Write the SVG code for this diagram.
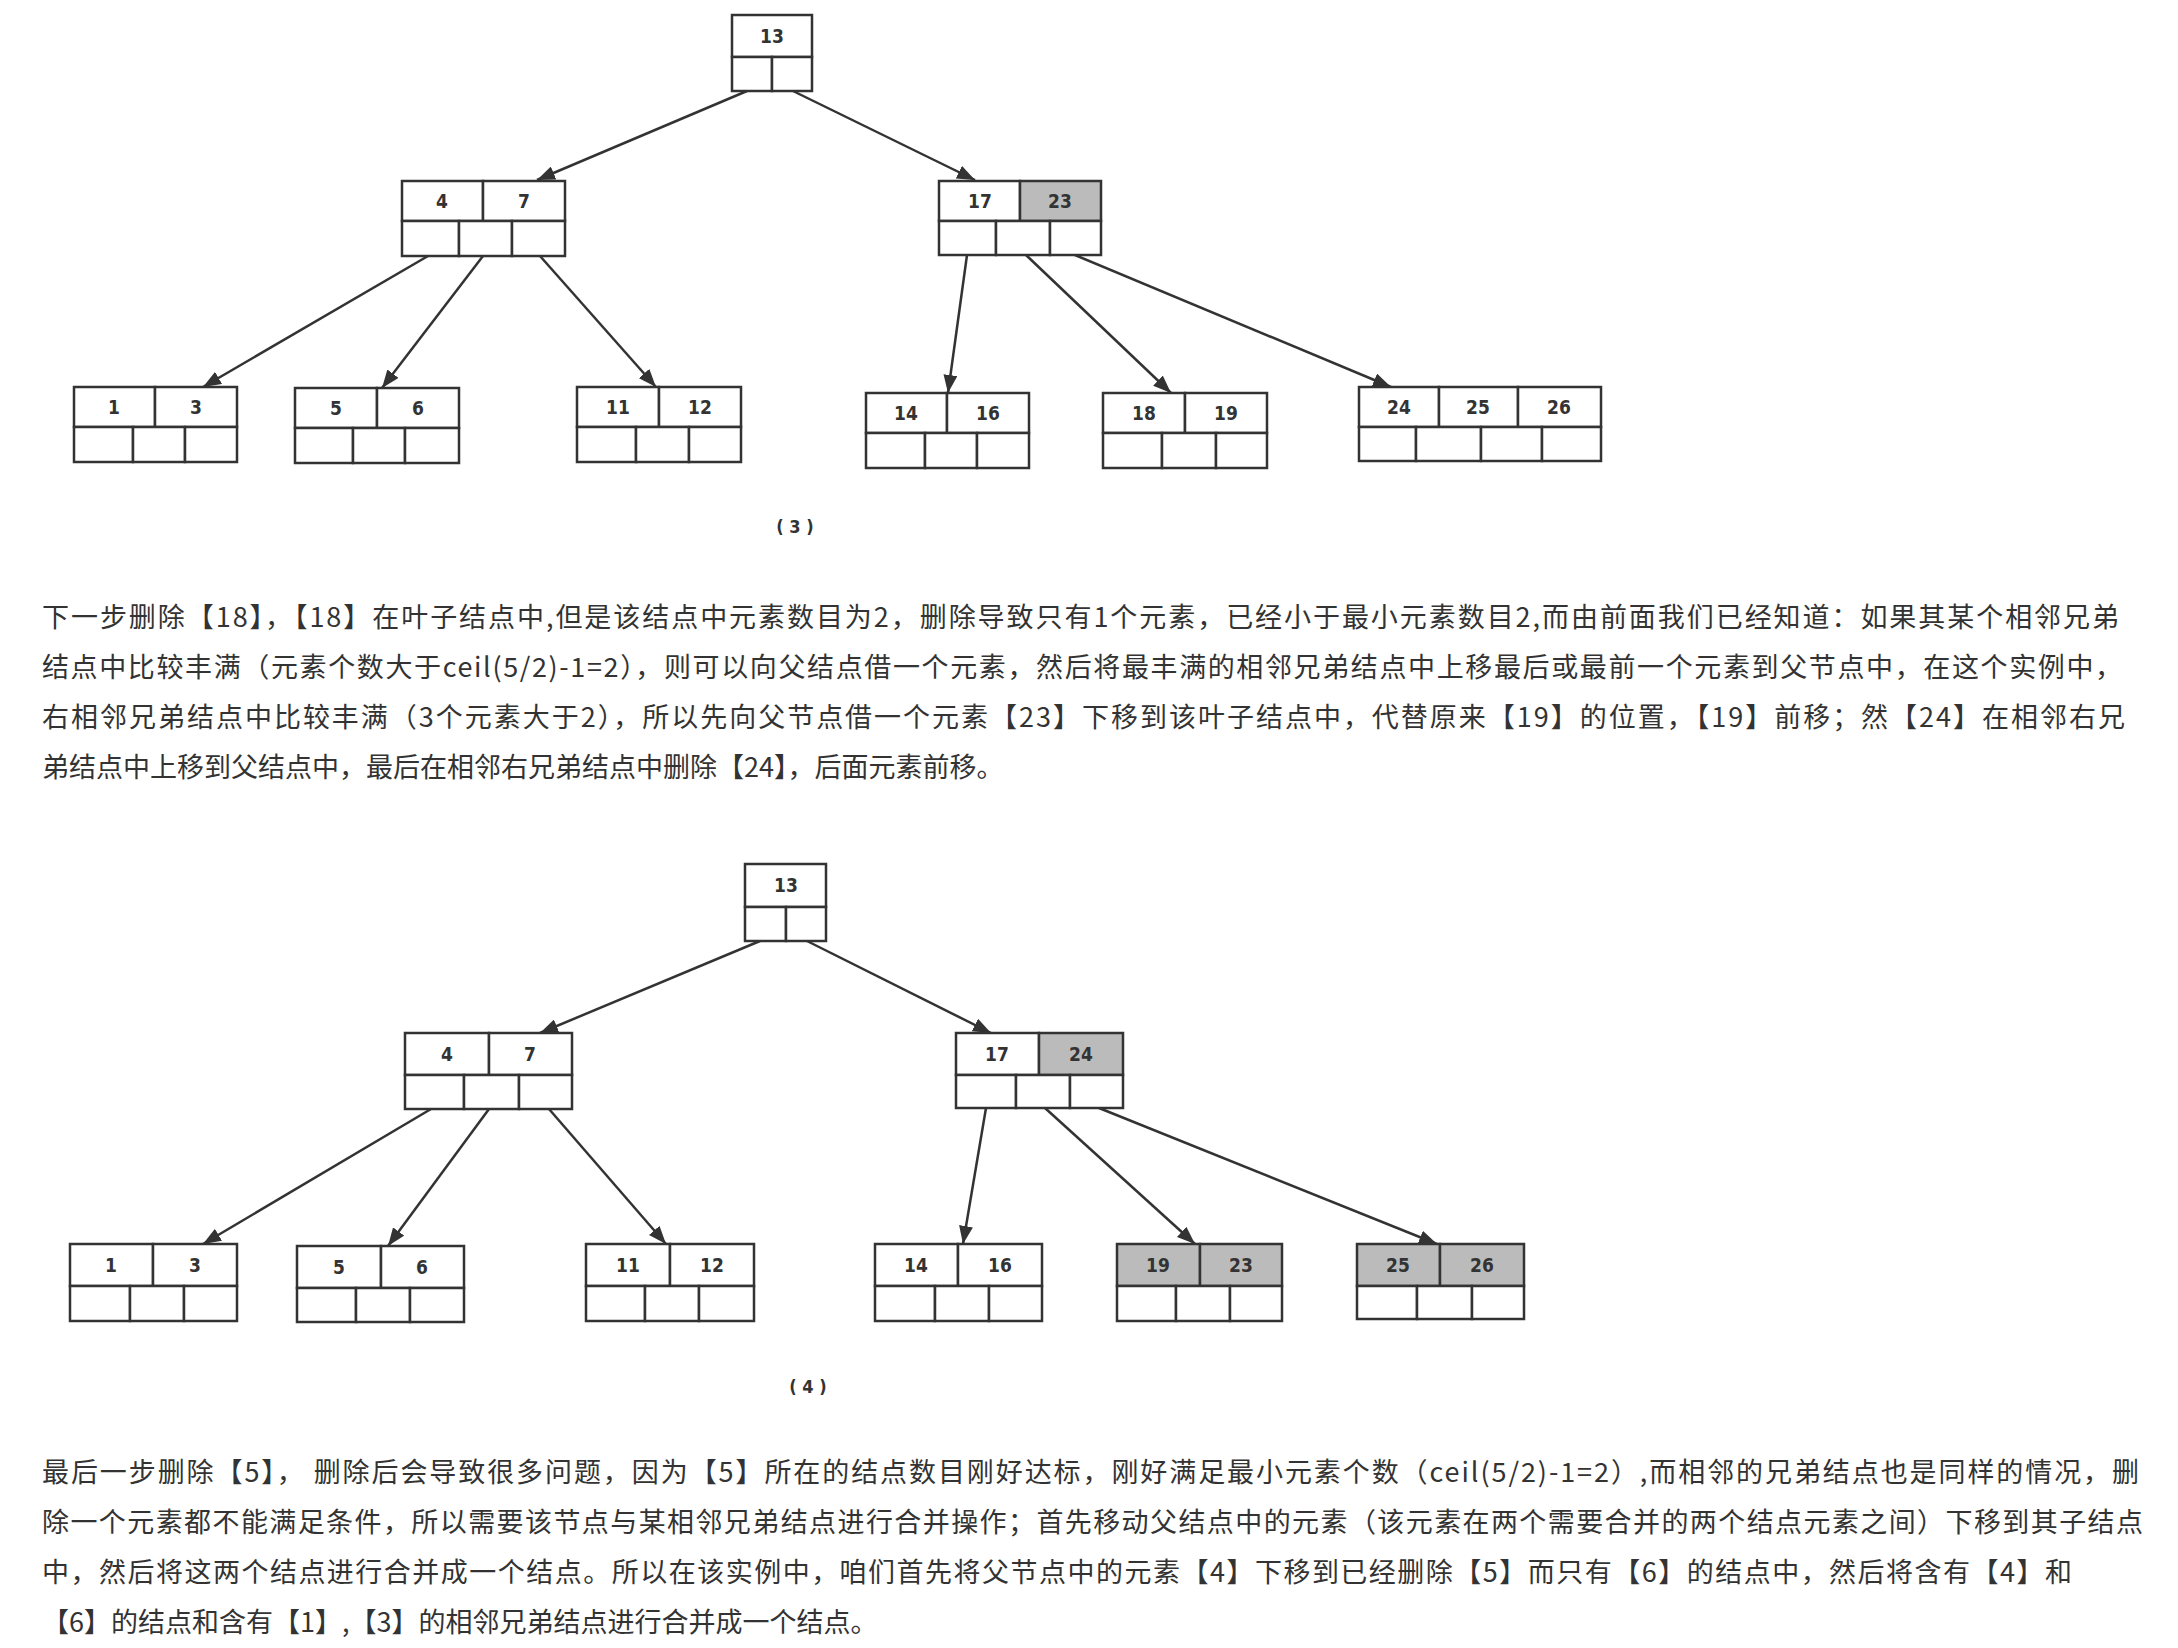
<svg xmlns="http://www.w3.org/2000/svg" width="2178" height="1648" viewBox="0 0 2178 1648">
<style>
.c{fill:#fff;stroke:#333;stroke-width:2.5}
.g{fill:#bbb;stroke:#333;stroke-width:2.5}
.n{font-family:"DejaVu Sans Condensed","DejaVu Sans",sans-serif;font-weight:bold;font-size:19px;fill:#333;text-anchor:middle}
.e{stroke:#333;stroke-width:2.5;fill:none;marker-end:url(#ah)}
.p{font-family:"Noto Sans CJK SC","Noto Sans",sans-serif;font-size:27px;fill:#333}
.cap{font-family:"DejaVu Sans Condensed",sans-serif;font-weight:bold;font-size:18px;fill:#333;text-anchor:middle}
</style>
<defs>
<marker id="ah" markerUnits="userSpaceOnUse" markerWidth="20" markerHeight="14" refX="18" refY="7" orient="auto"><path d="M0,0 L18,7 L0,14 Z" fill="#333"/></marker>
</defs>
<rect width="2178" height="1648" fill="#fff"/>
<g id="connectors">
<line class="e" x1="747" y1="91" x2="537" y2="180"/>
<line class="e" x1="793" y1="91" x2="975" y2="180"/>
<line class="e" x1="428" y1="256" x2="203" y2="387"/>
<line class="e" x1="483" y1="256" x2="382" y2="388"/>
<line class="e" x1="540" y1="256" x2="656" y2="387"/>
<line class="e" x1="967" y1="255" x2="948" y2="393"/>
<line class="e" x1="1026" y1="255" x2="1171" y2="393"/>
<line class="e" x1="1075" y1="255" x2="1391" y2="387"/>
<line class="e" x1="760" y1="941" x2="540" y2="1033"/>
<line class="e" x1="807" y1="941" x2="991" y2="1033"/>
<line class="e" x1="431" y1="1109" x2="203" y2="1244"/>
<line class="e" x1="489" y1="1109" x2="388" y2="1246"/>
<line class="e" x1="549" y1="1109" x2="666" y2="1244"/>
<line class="e" x1="986" y1="1108" x2="963" y2="1244"/>
<line class="e" x1="1045" y1="1108" x2="1195" y2="1244"/>
<line class="e" x1="1099" y1="1108" x2="1437" y2="1244"/>
</g>
<g id="t_root"><rect class="c" x="732" y="15" width="80" height="42"/><rect class="c" x="732" y="57" width="40" height="34"/><rect class="c" x="772" y="57" width="40" height="34"/><text class="n" x="772" y="43">13</text></g>
<g id="t_4_7"><rect class="c" x="402" y="181" width="81" height="40"/><rect class="c" x="483" y="181" width="82" height="40"/><rect class="c" x="402" y="221" width="57" height="35"/><rect class="c" x="459" y="221" width="53" height="35"/><rect class="c" x="512" y="221" width="53" height="35"/><text class="n" x="442" y="208">4</text><text class="n" x="524" y="208">7</text></g>
<g id="t_17_23"><rect class="c" x="939" y="181" width="81" height="40"/><rect class="g" x="1020" y="181" width="81" height="40"/><rect class="c" x="939" y="221" width="57" height="34"/><rect class="c" x="996" y="221" width="54" height="34"/><rect class="c" x="1050" y="221" width="51" height="34"/><text class="n" x="980" y="208">17</text><text class="n" x="1060" y="208">23</text></g>
<g id="t_1_3"><rect class="c" x="74" y="387" width="81" height="40"/><rect class="c" x="155" y="387" width="82" height="40"/><rect class="c" x="74" y="427" width="59" height="35"/><rect class="c" x="133" y="427" width="52" height="35"/><rect class="c" x="185" y="427" width="52" height="35"/><text class="n" x="114" y="414">1</text><text class="n" x="196" y="414">3</text></g>
<g id="t_5_6"><rect class="c" x="295" y="388" width="82" height="40"/><rect class="c" x="377" y="388" width="82" height="40"/><rect class="c" x="295" y="428" width="58" height="35"/><rect class="c" x="353" y="428" width="52" height="35"/><rect class="c" x="405" y="428" width="54" height="35"/><text class="n" x="336" y="415">5</text><text class="n" x="418" y="415">6</text></g>
<g id="t_11_12"><rect class="c" x="577" y="387" width="82" height="40"/><rect class="c" x="659" y="387" width="82" height="40"/><rect class="c" x="577" y="427" width="59" height="35"/><rect class="c" x="636" y="427" width="53" height="35"/><rect class="c" x="689" y="427" width="52" height="35"/><text class="n" x="618" y="414">11</text><text class="n" x="700" y="414">12</text></g>
<g id="t_14_16"><rect class="c" x="866" y="393" width="81" height="40"/><rect class="c" x="947" y="393" width="82" height="40"/><rect class="c" x="866" y="433" width="59" height="35"/><rect class="c" x="925" y="433" width="52" height="35"/><rect class="c" x="977" y="433" width="52" height="35"/><text class="n" x="906" y="420">14</text><text class="n" x="988" y="420">16</text></g>
<g id="t_18_19"><rect class="c" x="1103" y="393" width="82" height="40"/><rect class="c" x="1185" y="393" width="82" height="40"/><rect class="c" x="1103" y="433" width="59" height="35"/><rect class="c" x="1162" y="433" width="54" height="35"/><rect class="c" x="1216" y="433" width="51" height="35"/><text class="n" x="1144" y="420">18</text><text class="n" x="1226" y="420">19</text></g>
<g id="t_24_25_26"><rect class="c" x="1359" y="387" width="80" height="40"/><rect class="c" x="1439" y="387" width="79" height="40"/><rect class="c" x="1518" y="387" width="83" height="40"/><rect class="c" x="1359" y="427" width="57" height="34"/><rect class="c" x="1416" y="427" width="65" height="34"/><rect class="c" x="1481" y="427" width="61" height="34"/><rect class="c" x="1542" y="427" width="59" height="34"/><text class="n" x="1399" y="414">24</text><text class="n" x="1478" y="414">25</text><text class="n" x="1559" y="414">26</text></g>
<text class="cap" x="795" y="533">( 3 )</text>
<g class="p">
<text x="42" y="627" textLength="2077" lengthAdjust="spacing">下一步删除【18】，【18】在叶子结点中,但是该结点中元素数目为2，删除导致只有1个元素，已经小于最小元素数目2,而由前面我们已经知道：如果其某个相邻兄弟</text>
<text x="42" y="677" textLength="2080" lengthAdjust="spacing">结点中比较丰满（元素个数大于ceil(5/2)-1=2），则可以向父结点借一个元素，然后将最丰满的相邻兄弟结点中上移最后或最前一个元素到父节点中，在这个实例中，</text>
<text x="42" y="727" textLength="2083" lengthAdjust="spacing">右相邻兄弟结点中比较丰满（3个元素大于2），所以先向父节点借一个元素【23】下移到该叶子结点中，代替原来【19】的位置，【19】前移；然【24】在相邻右兄</text>
<text x="42" y="777">弟结点中上移到父结点中，最后在相邻右兄弟结点中删除【24】，后面元素前移。</text>
</g>
<g id="b_root"><rect class="c" x="745" y="864" width="81" height="43"/><rect class="c" x="745" y="907" width="41" height="34"/><rect class="c" x="786" y="907" width="40" height="34"/><text class="n" x="786" y="892">13</text></g>
<g id="b_4_7"><rect class="c" x="405" y="1033" width="84" height="42"/><rect class="c" x="489" y="1033" width="83" height="42"/><rect class="c" x="405" y="1075" width="59" height="34"/><rect class="c" x="464" y="1075" width="55" height="34"/><rect class="c" x="519" y="1075" width="53" height="34"/><text class="n" x="447" y="1061">4</text><text class="n" x="530" y="1061">7</text></g>
<g id="b_17_24"><rect class="c" x="956" y="1033" width="83" height="42"/><rect class="g" x="1039" y="1033" width="84" height="42"/><rect class="c" x="956" y="1075" width="60" height="33"/><rect class="c" x="1016" y="1075" width="54" height="33"/><rect class="c" x="1070" y="1075" width="53" height="33"/><text class="n" x="997" y="1061">17</text><text class="n" x="1081" y="1061">24</text></g>
<g id="b_1_3"><rect class="c" x="70" y="1244" width="83" height="42"/><rect class="c" x="153" y="1244" width="84" height="42"/><rect class="c" x="70" y="1286" width="60" height="35"/><rect class="c" x="130" y="1286" width="54" height="35"/><rect class="c" x="184" y="1286" width="53" height="35"/><text class="n" x="111" y="1272">1</text><text class="n" x="195" y="1272">3</text></g>
<g id="b_5_6"><rect class="c" x="297" y="1246" width="84" height="42"/><rect class="c" x="381" y="1246" width="83" height="42"/><rect class="c" x="297" y="1288" width="59" height="34"/><rect class="c" x="356" y="1288" width="54" height="34"/><rect class="c" x="410" y="1288" width="54" height="34"/><text class="n" x="339" y="1274">5</text><text class="n" x="422" y="1274">6</text></g>
<g id="b_11_12"><rect class="c" x="586" y="1244" width="84" height="42"/><rect class="c" x="670" y="1244" width="84" height="42"/><rect class="c" x="586" y="1286" width="59" height="35"/><rect class="c" x="645" y="1286" width="54" height="35"/><rect class="c" x="699" y="1286" width="55" height="35"/><text class="n" x="628" y="1272">11</text><text class="n" x="712" y="1272">12</text></g>
<g id="b_14_16"><rect class="c" x="875" y="1244" width="83" height="42"/><rect class="c" x="958" y="1244" width="84" height="42"/><rect class="c" x="875" y="1286" width="60" height="35"/><rect class="c" x="935" y="1286" width="54" height="35"/><rect class="c" x="989" y="1286" width="53" height="35"/><text class="n" x="916" y="1272">14</text><text class="n" x="1000" y="1272">16</text></g>
<g id="b_19_23"><rect class="g" x="1117" y="1244" width="83" height="42"/><rect class="g" x="1200" y="1244" width="82" height="42"/><rect class="c" x="1117" y="1286" width="59" height="35"/><rect class="c" x="1176" y="1286" width="54" height="35"/><rect class="c" x="1230" y="1286" width="52" height="35"/><text class="n" x="1158" y="1272">19</text><text class="n" x="1241" y="1272">23</text></g>
<g id="b_25_26"><rect class="g" x="1357" y="1244" width="83" height="42"/><rect class="g" x="1440" y="1244" width="84" height="42"/><rect class="c" x="1357" y="1286" width="60" height="33"/><rect class="c" x="1417" y="1286" width="55" height="33"/><rect class="c" x="1472" y="1286" width="52" height="33"/><text class="n" x="1398" y="1272">25</text><text class="n" x="1482" y="1272">26</text></g>
<text class="cap" x="808" y="1393">( 4 )</text>
<g class="p">
<text x="42" y="1482" textLength="2097" lengthAdjust="spacing">最后一步删除【5】， 删除后会导致很多问题，因为【5】所在的结点数目刚好达标，刚好满足最小元素个数（ceil(5/2)-1=2）,而相邻的兄弟结点也是同样的情况，删</text>
<text x="42" y="1532" textLength="2101" lengthAdjust="spacing">除一个元素都不能满足条件，所以需要该节点与某相邻兄弟结点进行合并操作；首先移动父结点中的元素（该元素在两个需要合并的两个结点元素之间）下移到其子结点</text>
<text x="42" y="1582" textLength="2030" lengthAdjust="spacing">中，然后将这两个结点进行合并成一个结点。所以在该实例中，咱们首先将父节点中的元素【4】下移到已经删除【5】而只有【6】的结点中，然后将含有【4】和</text>
<text x="42" y="1632">【6】的结点和含有【1】,【3】的相邻兄弟结点进行合并成一个结点。</text>
</g>
</svg>
